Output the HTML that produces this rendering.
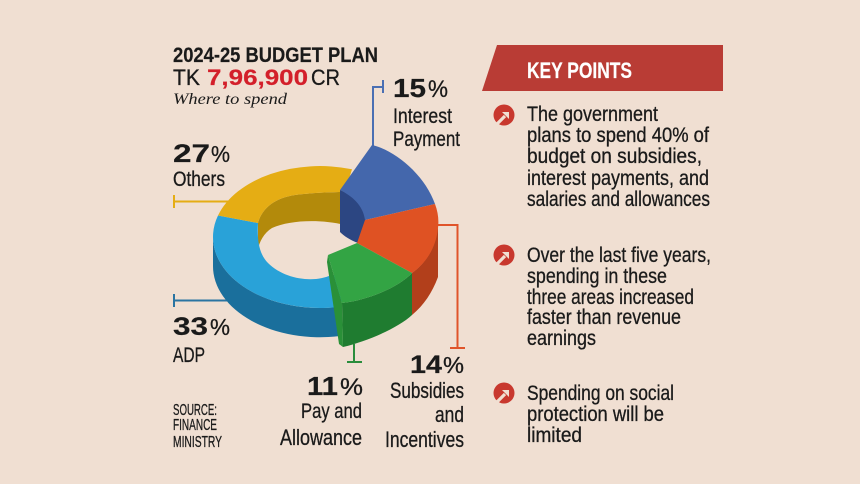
<!DOCTYPE html>
<html>
<head>
<meta charset="utf-8">
<style>
html,body{margin:0;padding:0;background:#f0dfd2;}
svg{display:block;}
.t{font-family:"Liberation Sans Narrow","Liberation Sans",sans-serif;fill:#1a1a1a;stroke:#1a1a1a;stroke-width:0.3;}
.b{font-weight:bold;stroke-width:0.2;}
</style>
</head>
<body>
<svg width="860" height="484" viewBox="0 0 860 484" xmlns="http://www.w3.org/2000/svg">
<rect width="860" height="484" fill="#f0dfd2"/>

<!-- leader lines -->
<g fill="none" stroke-width="2">
  <path d="M373,147 L373,87 L383,87 M383,80 L383,93" stroke="#4a6fb3"/>
  <path d="M174,195 L174,208 M174,201.5 L228,201.5" stroke="#e5ad14"/>
  <path d="M174,294 L174,307 M174,300.5 L227,300.5" stroke="#2a74a2"/>
  <path d="M354,344 L354,362 M347,362 L362,362" stroke="#2a8d3c"/>
  <path d="M437,225 L457.5,225 L457.5,348 M450,348 L465,348" stroke="#e0542a"/>
</g>

<!-- donut -->
<path d="M213,237 A107,71 0 0 0 340,306.7 L340,336 A107,71 0 0 1 213,266 Z" fill="#1a6f9c"/>
<path d="M258,223 C262,208 275,198 295,195 C310,193 330,192 345,192 L345,225 C320,219 290,220 272,228 C264,233 259,242 258,250 Z" fill="#b38a0b"/>
<path d="M218,215.5 A107,71 0 0 0 340,306.7 L348,275 L331,275 C315,283 285,280 268,263 C259,254 257,240 258,223 Z" fill="#29a2d8"/>
<path d="M218,215.5 A107,71 0 0 1 352,169.3 L345,192 C330,192 310,193 295,195 C275,198 262,208 258,223 Z" fill="#e5ad14"/>
<path d="M340,190 C352,195 363,205 366,220 L358,243 C350,240 344,236 340,232 Z" fill="#2c4682"/>
<path d="M340,190 L372,145 C395,150 425,175 435,204 L365,220 C363,205 352,196 340,190 Z" fill="#4467ac"/>
<path d="M438,222 L438,277 C432,293 424,305 412,315 L412,273 C424,264 436,250 438,225 Z" fill="#b23f1b"/>
<path d="M365,220 L435,204 C438,212 439,220 438,228 C436,248 426,263 412,273 L357,243 Z" fill="#df5223"/>
<path d="M342,303 C365,301 398,288 412,273 L412,315 C398,328 368,341 343,347 Z" fill="#1f7c30"/>
<path d="M328,255 L342,303 L343,347 L339,344 L327,262 Z" fill="#2a9038"/>
<path d="M328,255 L357,243 L412,273 C398,288 365,301 342,303 Z" fill="#33a444"/>

<!-- title -->
<text class="t b" x="173" y="62" font-size="21" textLength="205" lengthAdjust="spacingAndGlyphs">2024-25 BUDGET PLAN</text>
<text class="t" x="173" y="85" font-size="22" textLength="27" lengthAdjust="spacingAndGlyphs">TK</text>
<text class="t b" x="207" y="85" font-size="22" textLength="101" lengthAdjust="spacingAndGlyphs" style="fill:#d31f2a;stroke:#d31f2a">7,96,900</text>
<text class="t" x="311" y="85" font-size="22" textLength="29" lengthAdjust="spacingAndGlyphs">CR</text>
<text x="173" y="104" font-size="16" font-style="italic" font-family="'Liberation Serif',serif" fill="#1a1a1a" textLength="114" lengthAdjust="spacingAndGlyphs">Where to spend</text>

<!-- labels -->
<text class="t b" x="393" y="97" font-size="26" textLength="33" lengthAdjust="spacingAndGlyphs">15</text>
<text class="t" x="428" y="97" font-size="24" textLength="20" lengthAdjust="spacingAndGlyphs">%</text>
<text class="t" x="393" y="123" font-size="21" textLength="59" lengthAdjust="spacingAndGlyphs">Interest</text>
<text class="t" x="393" y="146" font-size="21" textLength="67" lengthAdjust="spacingAndGlyphs">Payment</text>

<text class="t b" x="173" y="162" font-size="25" textLength="37" lengthAdjust="spacingAndGlyphs">27</text>
<text class="t" x="211" y="162" font-size="23" textLength="19" lengthAdjust="spacingAndGlyphs">%</text>
<text class="t" x="173" y="186" font-size="21" textLength="52" lengthAdjust="spacingAndGlyphs">Others</text>

<text class="t b" x="173" y="335" font-size="25" textLength="35" lengthAdjust="spacingAndGlyphs">33</text>
<text class="t" x="210" y="335" font-size="23" textLength="20" lengthAdjust="spacingAndGlyphs">%</text>
<text class="t" x="173" y="362" font-size="21" textLength="32" lengthAdjust="spacingAndGlyphs">ADP</text>

<text class="t" x="173" y="415" font-size="16" textLength="44" lengthAdjust="spacingAndGlyphs">SOURCE:</text>
<text class="t" x="173" y="430" font-size="16" textLength="44" lengthAdjust="spacingAndGlyphs">FINANCE</text>
<text class="t" x="173" y="447" font-size="16" textLength="49" lengthAdjust="spacingAndGlyphs">MINISTRY</text>

<text class="t b" x="307" y="395" font-size="26" textLength="31" lengthAdjust="spacingAndGlyphs">11</text>
<text class="t" x="340" y="395" font-size="24" textLength="23" lengthAdjust="spacingAndGlyphs">%</text>
<text class="t" x="301" y="418" font-size="21" textLength="61" lengthAdjust="spacingAndGlyphs">Pay and</text>
<text class="t" x="280" y="445" font-size="22" textLength="82" lengthAdjust="spacingAndGlyphs">Allowance</text>

<text class="t b" x="410" y="373" font-size="25" textLength="32" lengthAdjust="spacingAndGlyphs">14</text>
<text class="t" x="443" y="373" font-size="23" textLength="21" lengthAdjust="spacingAndGlyphs">%</text>
<text class="t" x="390" y="398" font-size="22" textLength="74" lengthAdjust="spacingAndGlyphs">Subsidies</text>
<text class="t" x="435" y="422" font-size="22" textLength="29" lengthAdjust="spacingAndGlyphs">and</text>
<text class="t" x="385" y="447" font-size="22" textLength="79" lengthAdjust="spacingAndGlyphs">Incentives</text>

<!-- key points banner -->
<polygon points="497,45 723,45 723,91 482,91" fill="#b93c35"/>
<text class="t b" x="527" y="78" font-size="22" textLength="105" lengthAdjust="spacingAndGlyphs" style="fill:#ffffff;stroke:#ffffff">KEY POINTS</text>

<!-- bullet icons -->
<g transform="translate(504,115)">
  <circle r="10.5" fill="#c8382e"/>
  <path d="M1,1 L-9,11" stroke="#f0dfd2" stroke-width="3.2"/>
  <path d="M-2,-3 L5,-3 L5,4 Z" fill="#f0dfd2"/>
</g>
<g transform="translate(504,255)">
  <circle r="10.5" fill="#c8382e"/>
  <path d="M1,1 L-9,11" stroke="#f0dfd2" stroke-width="3.2"/>
  <path d="M-2,-3 L5,-3 L5,4 Z" fill="#f0dfd2"/>
</g>
<g transform="translate(504,393)">
  <circle r="10.5" fill="#c8382e"/>
  <path d="M1,1 L-9,11" stroke="#f0dfd2" stroke-width="3.2"/>
  <path d="M-2,-3 L5,-3 L5,4 Z" fill="#f0dfd2"/>
</g>

<!-- bullet texts -->
<text class="t" x="527" y="121" font-size="21" textLength="131" lengthAdjust="spacingAndGlyphs">The government</text>
<text class="t" x="527" y="142" font-size="21" textLength="182" lengthAdjust="spacingAndGlyphs">plans to spend 40% of</text>
<text class="t" x="527" y="163" font-size="21" textLength="175" lengthAdjust="spacingAndGlyphs">budget on subsidies,</text>
<text class="t" x="527" y="185" font-size="21" textLength="182" lengthAdjust="spacingAndGlyphs">interest payments, and</text>
<text class="t" x="527" y="206" font-size="21" textLength="183" lengthAdjust="spacingAndGlyphs">salaries and allowances</text>

<text class="t" x="527" y="262" font-size="21" textLength="184" lengthAdjust="spacingAndGlyphs">Over the last five years,</text>
<text class="t" x="527" y="283" font-size="21" textLength="140" lengthAdjust="spacingAndGlyphs">spending in these</text>
<text class="t" x="527" y="304" font-size="21" textLength="167" lengthAdjust="spacingAndGlyphs">three areas increased</text>
<text class="t" x="527" y="324" font-size="21" textLength="154" lengthAdjust="spacingAndGlyphs">faster than revenue</text>
<text class="t" x="527" y="345" font-size="21" textLength="69" lengthAdjust="spacingAndGlyphs">earnings</text>

<text class="t" x="527" y="400" font-size="21" textLength="147" lengthAdjust="spacingAndGlyphs">Spending on social</text>
<text class="t" x="527" y="421" font-size="21" textLength="137" lengthAdjust="spacingAndGlyphs">protection will be</text>
<text class="t" x="527" y="442" font-size="21" textLength="55" lengthAdjust="spacingAndGlyphs">limited</text>
</svg>
</body>
</html>
